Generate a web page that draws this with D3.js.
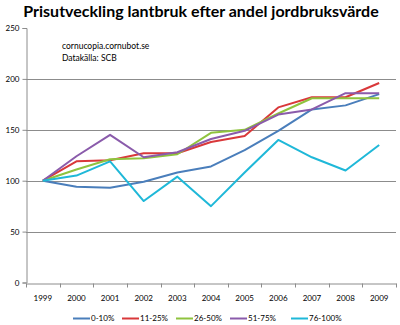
<!DOCTYPE html>
<html>
<head>
<meta charset="utf-8">
<script src="https://cdn.jsdelivr.net/npm/d3@7"></script>
<style>
  body { margin: 0; background: #fff; }
  svg { display: block; font-family: Lato, "Open Sans", sans-serif; }
</style>
</head>
<body>
<div id="chart"></div>
<script>
const years = ["1999", "2000", "2001", "2002", "2003", "2004", "2005", "2006", "2007", "2008", "2009"];
const seriesNames = ["0-10%", "11-25%", "26-50%", "51-75%", "76-100%"];
const seriesColors = ["#4a7ebb", "#d9383a", "#8fc33e", "#8a5bab", "#1fb8d8"];

const v0_10 = [100, 94, 93, 99, 108, 114, 130, 149, 170, 174, 185];
const v11_25 = [100, 119, 120, 127, 127, 138, 144, 172, 182, 182, 196];
const v26_50 = [100, 111, 121, 122, 126, 147, 150, 166, 181, 181, 181];
const v51_75 = [100, 124, 145, 123, 128, 141, 149, 165, 170, 186, 186];
const v76_100 = [100, 105, 119, 80, 104, 75, 108, 140, 123, 110, 135];

const yTicks = [0, 50, 100, 150, 200, 250];

const series = [v0_10, v11_25, v26_50, v51_75, v76_100].map((values, i) => ({
    name: seriesNames[i],
    color: seriesColors[i],
    values
}));

const width = 400;
const height = 325;
const plot = { left: 26, right: 396, top: 28, bottom: 282.5 };

const svg = d3.create("svg")
    .attr("width", width)
    .attr("height", height);

const x = d3.scaleBand()
    .domain(years)
    .range([plot.left, plot.right]);

const y = d3.scaleLinear()
    .domain([0, 250])
    .range([plot.bottom, plot.top]);

// title
svg.append("text")
    .attr("x", 201)
    .attr("y", 17)
    .attr("text-anchor", "middle")
    .attr("font-size", "16px")
    .attr("font-weight", "bold")
    .attr("fill", "#000")
    .text("Prisutveckling lantbruk efter andel jordbruksvärde");

// horizontal gridlines (none at the top value)
svg.append("g")
    .selectAll("line")
    .data(yTicks.filter(d => d > 0 && d < 250))
    .join("line")
    .attr("x1", plot.left)
    .attr("x2", plot.right)
    .attr("y1", d => Math.round(y(d)) + 0.5)
    .attr("y2", d => Math.round(y(d)) + 0.5)
    .attr("stroke", "#8c8c8c")
    .attr("stroke-width", 1);

// y axis
const yAxis = svg.append("g")
    .attr("transform", `translate(${plot.left + 0.5},0)`)
    .call(d3.axisLeft(y).tickValues(yTicks).tickSize(4).tickPadding(3));
yAxis.select(".domain").attr("stroke", "#8c8c8c");
yAxis.selectAll(".tick line").attr("stroke", "#8c8c8c");
yAxis.selectAll(".tick text")
    .attr("font-family", "Lato, sans-serif")
    .attr("font-size", "8px")
    .attr("fill", "#000");

// x axis with ticks between categories
const xAxis = svg.append("g")
    .attr("transform", `translate(0,${Math.round(plot.bottom) + 0.5})`)
    .call(d3.axisBottom(x).tickSize(0).tickPadding(12));
xAxis.select(".domain").attr("stroke", "#8c8c8c");
xAxis.selectAll(".tick text")
    .attr("font-family", "Lato, sans-serif")
    .attr("font-size", "8px")
    .attr("fill", "#000");
xAxis.append("g")
    .selectAll("line")
    .data(years.concat([null]))
    .join("line")
    .attr("x1", (d, i) => Math.round(plot.left + i * x.step()) + 0.5)
    .attr("x2", (d, i) => Math.round(plot.left + i * x.step()) + 0.5)
    .attr("y1", 0)
    .attr("y2", 4)
    .attr("stroke", "#8c8c8c");

// source note
const note = svg.append("g")
    .attr("font-size", "8.5px")
    .attr("fill", "#000");
note.append("text").attr("x", 62).attr("y", 49).text("cornucopia.cornubot.se");
note.append("text").attr("x", 62).attr("y", 61).text("Datakälla: SCB");

// lines
const line = d3.line()
    .x((d, i) => x(years[i]) + x.bandwidth() / 2)
    .y(d => y(d));

svg.append("g")
    .selectAll("path")
    .data(series)
    .join("path")
    .attr("d", d => line(d.values))
    .attr("fill", "none")
    .attr("stroke", d => d.color)
    .attr("stroke-width", 2)
    .attr("stroke-linejoin", "round");

// legend
const legendX = [73, 122, 176, 230, 291];
const legend = svg.append("g")
    .selectAll("g")
    .data(series)
    .join("g")
    .attr("transform", (d, i) => `translate(${legendX[i]},318.5)`);
legend.append("line")
    .attr("x1", 0)
    .attr("x2", 17)
    .attr("stroke", d => d.color)
    .attr("stroke-width", 2);
legend.append("text")
    .attr("x", 18)
    .attr("dy", "0.35em")
    .attr("font-size", "8px")
    .attr("fill", "#000")
    .text(d => d.name);

d3.select("#chart").node().append(svg.node());
</script>
</body>
</html>
